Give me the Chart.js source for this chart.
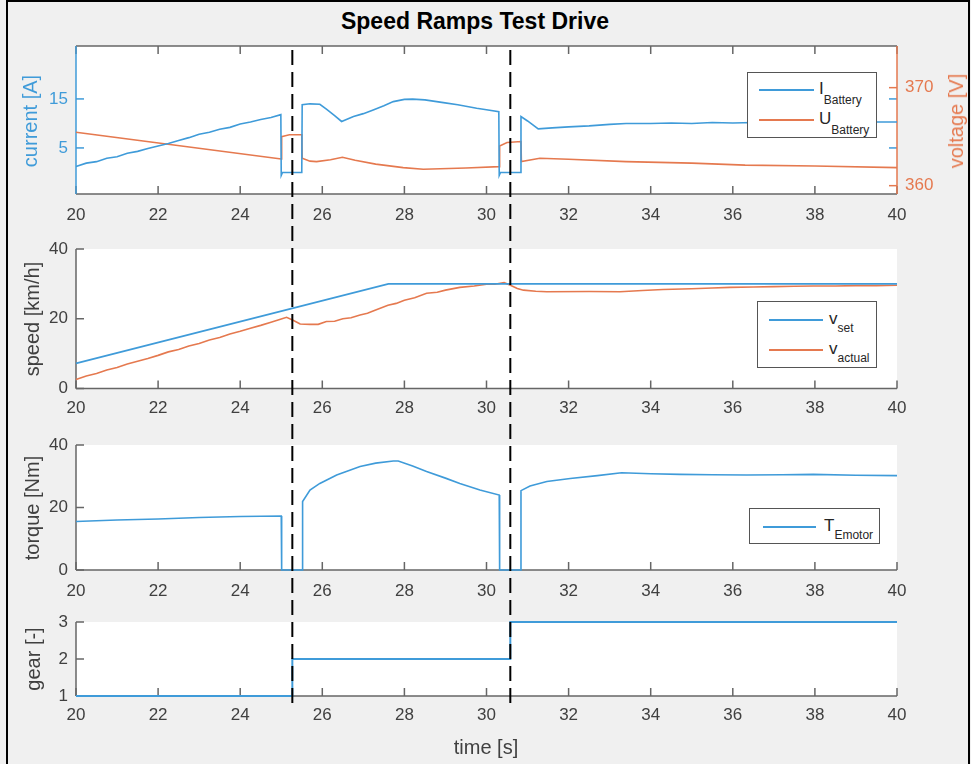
<!DOCTYPE html>
<html>
<head>
<meta charset="utf-8">
<title>Speed Ramps Test Drive</title>
<script src="https://cdn.jsdelivr.net/npm/chart.js@4.4.1/dist/chart.umd.min.js"></script>
<style>
    html, body { margin: 0; padding: 0; }
    body {
        width: 971px; height: 764px; position: relative; overflow: hidden;
        background: #f0f0f0; font-family: "Liberation Sans", Arial, sans-serif; color: #404040;
    }
    canvas { position: absolute; left: 0; }
    #overlay { pointer-events: none; }
    .frame { position: absolute; left: 6px; top: 0; width: 964px; height: 820px; border: 2px solid #000; box-sizing: border-box; }
    .title { position: absolute; left: 0; width: 950px; top: 10px; text-align: center; font-size: 23px; font-weight: bold; color: #000; line-height: 1; }
    .ylab { position: absolute; white-space: nowrap; font-size: 20px; line-height: 1; transform: translate(-50%, -50%) rotate(-90deg); }
    .xlab { position: absolute; white-space: nowrap; font-size: 20px; line-height: 1; transform: translate(-50%, -50%); }
    .legend { position: absolute; background: #fff; border: 1px solid #555; box-sizing: border-box; }
    .legend .sw { position: absolute; height: 2px; }
    .legend .lb { position: absolute; font-size: 17px; line-height: 1; color: #262626; white-space: nowrap; }
    .legend .lb sub { font-size: 12px; line-height: 1; }
</style>
</head>
<body>
<div class="frame"></div>
<div class="title">Speed Ramps Test Drive</div>

<canvas id="currentChart" width="971" height="240" style="top:0"></canvas>
<canvas id="speedChart" width="971" height="205" style="top:225px"></canvas>
<canvas id="torqueChart" width="971" height="180" style="top:420px"></canvas>
<canvas id="gearChart" width="971" height="164" style="top:600px"></canvas>
<canvas id="overlay" width="971" height="764" style="top:0"></canvas>

<div class="ylab" style="left:30px;top:121px;color:#3f9bd9">current [A]</div>
<div class="ylab" style="left:956px;top:121px;color:#e5794f">voltage [V]</div>
<div class="ylab" style="left:32px;top:319px">speed [km/h]</div>
<div class="ylab" style="left:32px;top:508px">torque [Nm]</div>
<div class="ylab" style="left:33px;top:659px">gear [-]</div>
<div class="xlab" style="left:486px;top:747px">time [s]</div>

<div class="legend" style="left:747px;top:72px;width:130px;height:66px">
    <div class="sw" style="left:11px;top:16px;width:55px;background:#3f9bd9"></div>
    <div class="lb" style="left:71px;top:7px">I<sub style="vertical-align:-10px">Battery</sub></div>
    <div class="sw" style="left:11px;top:46px;width:55px;background:#e5794f"></div>
    <div class="lb" style="left:71px;top:37px">U<sub style="vertical-align:-10px">Battery</sub></div>
</div>
<div class="legend" style="left:757px;top:301px;width:120px;height:67px">
    <div class="sw" style="left:11px;top:17px;width:54px;background:#3f9bd9"></div>
    <div class="lb" style="left:71px;top:8px">v<sub style="vertical-align:-8px">set</sub></div>
    <div class="sw" style="left:11px;top:47px;width:54px;background:#e5794f"></div>
    <div class="lb" style="left:71px;top:38px">v<sub style="vertical-align:-8px">actual</sub></div>
</div>
<div class="legend" style="left:749px;top:508px;width:131px;height:36px">
    <div class="sw" style="left:13px;top:17px;width:53px;background:#3f9bd9"></div>
    <div class="lb" style="left:74px;top:8px">T<sub style="vertical-align:-8px">Emotor</sub></div>
</div>

<script>
const BLUE = '#3f9bd9';
const ORANGE = '#e5794f';
const AXIS = '#666666';
const TEXT = '#404040';

// tick labels
const timeTicks = [20, 22, 24, 26, 28, 30, 32, 34, 36, 38, 40];
const currentTicks = [5, 15];
const voltageTicks = [360, 370];
const speedTicks = [0, 20, 40];
const torqueTicks = [0, 20, 40];
const gearTicks = [1, 2, 3];

// gear shift instants (dashed lines)
const shiftTimes = [25.27, 30.58];

// battery current [A]
const currentTime = [20, 20.25, 20.5, 20.75, 21, 21.25, 21.5, 21.75, 22, 22.25, 22.5, 22.75, 23, 23.25, 23.5, 23.75,
    24, 24.25, 24.5, 24.75, 24.99, 25.0, 25.03, 25.5, 25.51, 25.7, 25.94, 26.1, 26.3, 26.47, 26.76, 27.0, 27.24,
    27.5, 27.73, 28.0, 28.2, 28.5, 28.95, 29.3, 29.76, 30.0, 30.3, 30.31, 30.34, 30.83, 30.84, 31.0, 31.26, 31.6,
    32.0, 32.5, 33.0, 33.4, 34.0, 34.5, 35.0, 35.5, 36.0, 36.5, 37.0, 37.5, 38.0, 38.5, 39.0, 39.5, 40];
const currentA = [1.2, 1.9, 2.2, 2.9, 3.2, 3.9, 4.3, 4.9, 5.4, 5.9, 6.5, 7.1, 7.8, 8.2, 8.8, 9.2,
    9.9, 10.3, 10.8, 11.2, 11.8, -0.6, 0, 0, 13.8, 14.0, 13.9, 12.9, 11.6, 10.4, 11.4, 12.0, 12.75,
    13.6, 14.45, 14.9, 14.95, 14.8, 14.25, 13.8, 13.1, 12.8, 12.4, -0.6, 0, 0, 11.4, 10.5, 8.9, 9.1,
    9.3, 9.5, 9.8, 10.0, 10.0, 10.1, 10.0, 10.2, 10.1, 10.2, 10.1, 10.2, 10.2, 10.3, 10.2, 10.3, 10.3];

// battery voltage [V]
const voltageTime = [20, 25.0, 25.01, 25.1, 25.2, 25.5, 25.51, 25.7, 25.86, 26.2, 26.49, 26.8, 27.3, 27.97,
    28.46, 29.5, 30.31, 30.32, 30.5, 30.84, 30.85, 31.3, 32, 33.4, 35, 36.3, 38, 40];
const voltageV = [365.45, 362.72, 365.0, 365.1, 365.2, 365.2, 362.8, 362.5, 362.45, 362.65, 362.9, 362.6, 362.2, 361.84,
    361.67, 361.8, 361.94, 364.05, 364.4, 364.5, 362.45, 362.8, 362.7, 362.45, 362.3, 362.1, 362.0, 361.84];

// speed [km/h]
const vSetTime = [20, 27.61, 40];
const vSet = [7.2, 30, 30];
const vActTime = [20, 20.25, 20.5, 20.75, 21, 21.25, 21.5, 21.75, 22, 22.25, 22.5, 22.75, 23, 23.25, 23.5, 23.75,
    24, 24.25, 24.5, 24.75, 25.0, 25.13, 25.3, 25.46, 25.7, 25.9, 26.1, 26.3, 26.5, 26.7, 26.92, 27.1, 27.3, 27.6,
    27.8, 28.0, 28.25, 28.54, 28.8, 29.0, 29.35, 29.7, 30.0, 30.2, 30.43, 30.57, 30.75, 30.9, 31.2, 31.47, 32.5,
    33.25, 33.8, 34.3, 35.0, 35.5, 35.93, 36.5, 37.0, 37.5, 37.96, 38.5, 39.0, 39.5, 40];
const vAct = [2.6, 3.6, 4.3, 5.3, 6.0, 7.0, 7.8, 8.6, 9.5, 10.5, 11.2, 12.2, 12.9, 13.9, 14.6, 15.6,
    16.4, 17.3, 18.1, 19.0, 19.9, 20.4, 19.5, 18.5, 18.4, 18.4, 19.2, 19.3, 20.0, 20.3, 21.1, 21.6, 22.5, 23.9,
    24.4, 25.3, 26.0, 27.3, 27.6, 28.2, 29.0, 29.4, 29.9, 29.9, 30.35, 29.7, 28.7, 28.2, 27.9, 27.76, 27.8,
    27.76, 28.1, 28.4, 28.6, 28.8, 29.0, 29.1, 29.2, 29.3, 29.4, 29.4, 29.5, 29.5, 29.6];

// motor torque [Nm]
const torqueTime = [20, 21, 22, 23, 24, 25.0, 25.01, 25.51, 25.52, 25.7, 25.94, 26.35, 26.92, 27.3, 27.73, 27.85,
    28.2, 28.54, 29.0, 29.35, 29.84, 30.31, 30.32, 30.83, 30.84, 31.06, 31.47, 32.04, 32.7, 33.29, 34, 34.71,
    35.5, 36.34, 37.2, 37.96, 39, 40];
const torqueNm = [15.5, 16.0, 16.3, 16.8, 17.1, 17.3, 0, 0, 21.9, 25.6, 27.7, 30.4, 33.1, 34.2, 34.9, 34.9,
    33.3, 31.5, 29.4, 27.7, 25.6, 24.0, 0, 0, 25.4, 26.9, 28.3, 29.3, 30.2, 31.1, 30.8, 30.6,
    30.5, 30.4, 30.5, 30.6, 30.3, 30.2];

// gear [-]
const gearTime = [20, 25.27, 30.58, 40];
const gearNo = [1, 2, 3, 3];

Chart.defaults.font.family = '"Liberation Sans", Arial, sans-serif';
Chart.defaults.font.size = 17;
Chart.defaults.color = TEXT;

function points(xs, ys) {
    return xs.map((x, i) => ({x, y: ys[i]}));
}

function series(xs, ys, color, extra) {
    return Object.assign({
        data: points(xs, ys),
        borderColor: color,
        borderWidth: 1.6,
        pointRadius: 0,
        tension: 0,
        clip: false
    }, extra || {});
}

// MATLAB-like axes: white plot box, inward ticks, optional box outline
const matlabAxes = {
    id: 'matlabAxes',
    beforeDraw(chart) {
        const {ctx, chartArea: a} = chart;
        ctx.save();
        ctx.fillStyle = '#ffffff';
        ctx.fillRect(a.left, a.top, a.right - a.left, a.bottom - a.top);
        ctx.restore();
    },
    beforeDatasetsDraw(chart, args, opts) {
        const {ctx, chartArea: a, scales} = chart;
        const tl = 8;
        const seg = (x1, y1, x2, y2, c) => {
            ctx.strokeStyle = c;
            ctx.beginPath();
            ctx.moveTo(x1, y1);
            ctx.lineTo(x2, y2);
            ctx.stroke();
        };
        ctx.save();
        ctx.lineWidth = 1.5;

        const x = scales.x;
        seg(a.left, a.bottom, a.right, a.bottom, AXIS);
        if (opts.box) seg(a.left, a.top, a.right, a.top, AXIS);
        x.ticks.forEach(t => {
            const px = x.getPixelForValue(t.value);
            seg(px, a.bottom, px, a.bottom - tl, AXIS);
            if (opts.box) seg(px, a.top, px, a.top + tl, AXIS);
        });

        const y = scales.y;
        const lc = opts.leftColor || AXIS;
        seg(a.left, a.top, a.left, a.bottom, lc);
        y.ticks.forEach(t => {
            const py = y.getPixelForValue(t.value);
            seg(a.left, py, a.left + tl, py, lc);
            if (opts.box) seg(a.right, py, a.right - tl, py, lc);
        });

        const y2 = scales.y2;
        if (y2) {
            const rc = opts.rightColor || AXIS;
            seg(a.right, a.top, a.right, a.bottom, rc);
            y2.ticks.forEach(t => {
                const py = y2.getPixelForValue(t.value);
                seg(a.right, py, a.right - tl, py, rc);
            });
        }
        ctx.restore();
    }
};

function xAxis(height, pad) {
    return {
        type: 'linear',
        min: 20,
        max: 40,
        grid: {display: false, drawTicks: false},
        border: {display: false},
        ticks: {padding: pad, color: TEXT, autoSkip: false, maxRotation: 0},
        afterBuildTicks: s => { s.ticks = timeTicks.map(v => ({value: v})); },
        afterFit: s => { s.height = height; }
    };
}

function yAxis(min, max, tickValues, width, color, position) {
    return {
        type: 'linear',
        position: position || 'left',
        min,
        max,
        grid: {display: false, drawTicks: false},
        border: {display: false},
        ticks: {padding: 8, color: color || TEXT},
        afterBuildTicks: s => { s.ticks = tickValues.map(v => ({value: v})); },
        afterFit: s => { s.width = width; }
    };
}

function baseOptions(pad, scales, axesOpts) {
    return {
        responsive: false,
        animation: false,
        devicePixelRatio: 1,
        events: [],
        layout: {padding: pad, autoPadding: false},
        plugins: {legend: {display: false}, tooltip: {enabled: false}, matlabAxes: axesOpts},
        scales
    };
}

new Chart(document.getElementById('currentChart'), {
    type: 'line',
    data: {
        datasets: [
            series(currentTime, currentA, BLUE, {yAxisID: 'y'}),
            series(voltageTime, voltageV, ORANGE, {yAxisID: 'y2'})
        ]
    },
    options: baseOptions({top: 46, left: 0, right: 0, bottom: 0}, {
        x: xAxis(46, 11),
        y: yAxis(-4.4, 25.8, currentTicks, 76, BLUE),
        y2: yAxis(359.15, 374.25, voltageTicks, 74, ORANGE, 'right')
    }, {box: true, leftColor: BLUE, rightColor: ORANGE}),
    plugins: [matlabAxes]
});

new Chart(document.getElementById('speedChart'), {
    type: 'line',
    data: {
        datasets: [
            series(vSetTime, vSet, BLUE),
            series(vActTime, vAct, ORANGE)
        ]
    },
    options: baseOptions({top: 24, left: 0, right: 74, bottom: 0}, {
        x: xAxis(41.5, 10),
        y: yAxis(0, 40, speedTicks, 76)
    }, {box: false}),
    plugins: [matlabAxes]
});

new Chart(document.getElementById('torqueChart'), {
    type: 'line',
    data: {datasets: [series(torqueTime, torqueNm, BLUE)]},
    options: baseOptions({top: 25, left: 0, right: 74, bottom: 0}, {
        x: xAxis(30, 11),
        y: yAxis(0, 40, torqueTicks, 76)
    }, {box: false}),
    plugins: [matlabAxes]
});

new Chart(document.getElementById('gearChart'), {
    type: 'line',
    data: {datasets: [series(gearTime, gearNo, BLUE, {stepped: 'before', borderWidth: 2})]},
    options: baseOptions({top: 22, left: 0, right: 74, bottom: 0}, {
        x: xAxis(68, 9),
        y: yAxis(1, 3, gearTicks, 76)
    }, {box: false}),
    plugins: [matlabAxes]
});

// dashed shift markers spanning all four panels
new Chart(document.getElementById('overlay'), {
    type: 'line',
    data: {
        datasets: shiftTimes.map(t => ({
            data: [{x: t, y: 0}, {x: t, y: 1}],
            borderColor: '#000000',
            borderWidth: 2,
            borderDash: [15, 7],
            pointRadius: 0,
            clip: false
        }))
    },
    options: {
        responsive: false,
        animation: false,
        devicePixelRatio: 1,
        events: [],
        layout: {padding: {top: 46, left: 76, right: 74, bottom: 61}, autoPadding: false},
        plugins: {legend: {display: false}, tooltip: {enabled: false}},
        scales: {
            x: {type: 'linear', min: 20, max: 40, display: false},
            y: {type: 'linear', min: 0, max: 1, display: false}
        }
    }
});
</script>
</body>
</html>
